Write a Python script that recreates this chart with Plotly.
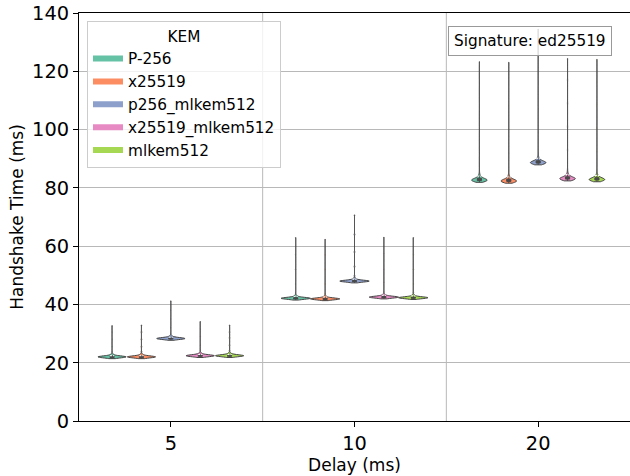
import numpy as np
import plotly.graph_objects as go

delays = ["5", "10", "20"]
kems = ["P-256", "x25519", "p256_mlkem512", "x25519_mlkem512", "mlkem512"]
colors = ["#66c2a5", "#fc8d62", "#8da0cb", "#e78ac3", "#a6d854"]

# Handshake time sample values (ms) with how often each occurs
counts_5 = [2, 8, 16, 24, 16, 8, 4, 2, 1, 1, 1, 1, 1]
p256_5 = [21.4, 21.6, 21.8, 22.0, 22.2, 22.4, 22.7, 23.1, 23.8, 25.5, 28.0, 30.5, 32.7]
x25519_5 = [21.4, 21.6, 21.8, 22.0, 22.2, 22.4, 22.7, 23.1, 23.8, 25.5, 28.0, 30.5, 32.9]
p256_mlkem512_5 = [27.7, 27.9, 28.1, 28.3, 28.5, 28.7, 29.0, 29.4, 30.1, 32.0, 35.0, 38.0, 41.2]
x25519_mlkem512_5 = [21.8, 22.0, 22.2, 22.4, 22.6, 22.8, 23.1, 23.5, 24.2, 26.0, 29.0, 31.5, 34.1]
mlkem512_5 = [21.8, 22.0, 22.2, 22.4, 22.6, 22.8, 23.1, 23.5, 24.2, 26.0, 28.5, 30.5, 32.9]

counts_10 = [2, 8, 16, 24, 16, 8, 4, 2, 1, 1, 1, 1, 1]
p256_10 = [41.5, 41.7, 41.9, 42.1, 42.3, 42.5, 42.8, 43.2, 43.9, 47.0, 52.0, 57.0, 62.9]
x25519_10 = [41.3, 41.5, 41.7, 41.9, 42.1, 42.3, 42.6, 43.0, 43.7, 47.0, 52.0, 57.0, 62.3]
p256_mlkem512_10 = [47.4, 47.6, 47.8, 48.0, 48.2, 48.4, 48.7, 49.1, 49.8, 53.0, 58.0, 64.0, 70.7]
x25519_mlkem512_10 = [41.9, 42.1, 42.3, 42.5, 42.7, 42.9, 43.2, 43.6, 44.3, 47.5, 52.0, 57.5, 63.0]
mlkem512_10 = [41.7, 41.9, 42.1, 42.3, 42.5, 42.7, 43.0, 43.4, 44.1, 47.0, 52.0, 57.0, 62.9]

counts_20 = [4, 14, 22, 22, 16, 10, 6, 4, 2, 1, 1, 1, 1, 1, 1]
p256_20 = [81.9, 82.2, 82.5, 82.7, 83.0, 83.3, 83.7, 84.2, 84.9, 85.9, 92, 100, 108, 116, 123.3]
x25519_20 = [81.6, 81.9, 82.2, 82.4, 82.7, 83.0, 83.4, 83.9, 84.6, 85.6, 92, 100, 108, 116, 123.1]
p256_mlkem512_20 = [87.9, 88.2, 88.5, 88.7, 89.0, 89.3, 89.7, 90.2, 90.9, 91.9, 99, 107, 116, 125, 134.5]
x25519_mlkem512_20 = [82.4, 82.7, 83.0, 83.2, 83.5, 83.8, 84.2, 84.7, 85.4, 86.4, 93, 101, 109, 117, 124.4]
mlkem512_20 = [82.1, 82.4, 82.7, 82.9, 83.2, 83.5, 83.9, 84.4, 85.1, 86.1, 92.5, 100.5, 108.5, 116.5, 124.1]

samples = {
    "5": (counts_5, [p256_5, x25519_5, p256_mlkem512_5, x25519_mlkem512_5, mlkem512_5]),
    "10": (counts_10, [p256_10, x25519_10, p256_mlkem512_10, x25519_mlkem512_10, mlkem512_10]),
    "20": (counts_20, [p256_20, x25519_20, p256_mlkem512_20, x25519_mlkem512_20, mlkem512_20]),
}
bandwidths = {"5": 0.22, "10": 0.2, "20": 0.45}

FONT = "DejaVu Sans"
EDGE = "#444444"

fig = go.Figure()
for k, (kem, col) in enumerate(zip(kems, colors)):
    for d in delays:
        cnts, lists = samples[d]
        y = np.repeat(np.array(lists[k]), cnts)
        fig.add_trace(go.Violin(
            x=[d] * len(y), y=y, name=kem, legendgroup=kem, offsetgroup=kem,
            showlegend=False, fillcolor=col, line=dict(color=EDGE, width=1),
            bandwidth=bandwidths[d], spanmode="hard", points=False,
            scalegroup="all", scalemode="width",
            box=dict(visible=True, width=0.14, fillcolor="#4a4a4a",
                     line=dict(color="#4a4a4a", width=1)),
            meanline=dict(visible=True, color="white", width=1),
            hoverinfo="y",
        ))
    # legend entry
    fig.add_trace(go.Scatter(
        x=[None], y=[None], mode="none", fill="toself", fillcolor=col,
        name=kem, legendgroup=kem, showlegend=True, hoverinfo="skip",
    ))

fig.update_layout(
    width=630, height=476,
    margin=dict(l=79, r=0, t=13, b=55),
    plot_bgcolor="white", paper_bgcolor="white",
    font=dict(family=FONT, color="black"),
    violinmode="group", violingap=0.2, violingroupgap=0,
    legend=dict(
        title=dict(text="KEM", side="top center", font=dict(size=15.3, family=FONT)),
        font=dict(size=15.3, family=FONT),
        x=0.0145, y=0.98, xanchor="left", yanchor="top",
        bgcolor="rgba(255,255,255,0.8)", bordercolor="#cccccc", borderwidth=1,
        tracegroupgap=0, itemwidth=30,
    ),
    xaxis=dict(
        type="category", categoryorder="array", categoryarray=delays,
        range=[-0.5, 2.5], showgrid=False, zeroline=False,
        showline=True, linecolor="black", linewidth=1, mirror=True,
        ticks="outside", ticklen=5, tickcolor="black",
        tickfont=dict(size=19.4, family=FONT),
        title=dict(text="Delay (ms)", font=dict(size=17, family=FONT), standoff=2),
    ),
    yaxis=dict(
        range=[0, 140], dtick=20, showgrid=True, gridcolor="#b8b8b8", gridwidth=1,
        zeroline=False, showline=True, linecolor="black", linewidth=1,
        ticks="outside", ticklen=5, tickcolor="black",
        tickfont=dict(size=19.4, family=FONT),
        title=dict(text="Handshake Time (ms)", font=dict(size=17, family=FONT), standoff=4),
    ),
    annotations=[dict(
        text="Signature: ed25519", xref="paper", yref="paper",
        x=0.967, y=0.968, xanchor="right", yanchor="top", showarrow=False,
        font=dict(size=15.3, family=FONT), bordercolor="#999999", borderwidth=1,
        borderpad=5, bgcolor="rgba(255,255,255,0.8)",
    )],
    shapes=[dict(type="line", xref="x", yref="paper", x0=b, x1=b, y0=0, y1=1,
                 line=dict(color="#b8b8b8", width=1), layer="below")
            for b in (0.5, 1.5)],
)

fig.write_html("out.html")
